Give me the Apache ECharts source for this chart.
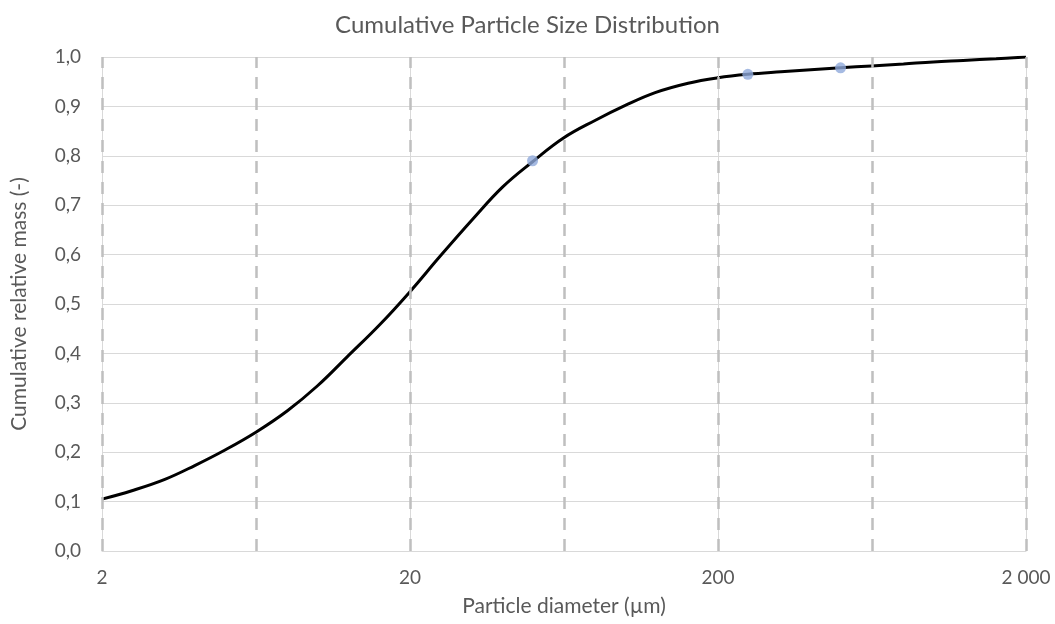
<!DOCTYPE html>
<html>
<head>
<meta charset="utf-8">
<title>Cumulative Particle Size Distribution</title>
<script src="https://cdn.jsdelivr.net/npm/echarts@6/dist/echarts.min.js"></script>
<style>
  html, body { margin: 0; padding: 0; background: #ffffff; }
  #chart { width: 1055px; height: 624px; }
</style>
</head>
<body>
<div id="chart"></div>
<script>
// Particle diameters (µm, R10 steps) and cumulative relative mass of the measured curve
const diameters = [2, 2.5, 3.2, 4, 5, 6.3, 8, 10, 12.5, 16, 20, 25, 32, 40, 50, 63, 80, 100, 125, 160, 200, 250, 320, 400, 500, 630, 800, 1000, 1250, 1600, 2000];
const cumulativeMass = [0.105, 0.122, 0.145, 0.173, 0.204, 0.240, 0.284, 0.334, 0.393, 0.459, 0.525, 0.596, 0.672, 0.737, 0.788, 0.836, 0.872, 0.902, 0.928, 0.947, 0.958, 0.965, 0.970, 0.974, 0.978, 0.982, 0.986, 0.990, 0.993, 0.9965, 1.000];

// Highlighted sample points
const markerDiameters = [50, 250, 500];
const markerMass = [0.79, 0.965, 0.978];

// Decade gridlines and half-decade dashed guides
const decadeTicks = [2, 20, 200, 2000];
const guideDiameters = [2, 6.32, 20, 63.2, 200, 632, 2000];

const FONT = 'Lato';
const TEXT = '#595959';

function fmtDiameter(v) {
  const n = Math.round(v);
  return String(n).replace(/\B(?=(\d{3})+(?!\d))/g, ' ');
}

const chart = echarts.init(document.getElementById('chart'), null, { renderer: 'canvas' });

chart.setOption({
  backgroundColor: '#ffffff',
  animation: false,
  textStyle: { fontFamily: FONT },
  title: {
    text: 'Cumulative Particle Size Distribution',
    left: 'center',
    top: 8,
    textStyle: { fontFamily: FONT, fontSize: 24, fontWeight: 'normal', color: TEXT }
  },
  grid: { left: 102, right: 29, top: 57, bottom: 73, outerBoundsMode: 'none', containLabel: false },
  xAxis: {
    type: 'log',
    logBase: 10,
    min: 2,
    max: 2000,
    name: 'Particle diameter (µm)',
    nameLocation: 'middle',
    nameGap: 45,
    nameTextStyle: { fontFamily: FONT, fontSize: 21, color: TEXT },
    axisLine: { show: true, lineStyle: { color: '#d9d9d9', width: 1 } },
    axisTick: { show: false },
    splitLine: { show: false },
    minorSplitLine: { show: false },
    axisLabel: {
      customValues: decadeTicks,
      formatter: fmtDiameter,
      margin: 17,
      fontFamily: FONT,
      fontSize: 19,
      color: TEXT
    }
  },
  yAxis: {
    type: 'value',
    min: 0,
    max: 1,
    interval: 0.1,
    name: 'Cumulative relative mass (-)',
    nameLocation: 'middle',
    nameGap: 72,
    nameTextStyle: { fontFamily: FONT, fontSize: 21, color: TEXT },
    axisLine: { show: false },
    axisTick: { show: false },
    splitLine: { show: true, lineStyle: { color: '#d9d9d9', width: 1 } },
    axisLabel: {
      formatter: v => v.toFixed(1).replace('.', ','),
      margin: 21,
      fontFamily: FONT,
      fontSize: 19,
      color: TEXT
    }
  },
  series: [
    {
      // solid decade gridlines
      type: 'line',
      data: [],
      silent: true,
      z: 1,
      markLine: {
        silent: true,
        symbol: ['none', 'none'],
        label: { show: false },
        animation: false,
        lineStyle: { type: 'solid', color: '#d9d9d9', width: 1 },
        data: decadeTicks.map(d => ({ xAxis: d }))
      }
    },
    {
      // dashed half-decade guides
      type: 'line',
      data: [],
      silent: true,
      z: 2,
      markLine: {
        silent: true,
        symbol: ['none', 'none'],
        label: { show: false },
        animation: false,
        lineStyle: { type: [12, 9], color: '#bfbfbf', width: 2.5 },
        data: guideDiameters.map(d => ({ xAxis: d }))
      }
    },
    {
      name: 'Cumulative mass',
      type: 'line',
      z: 3,
      smooth: 0.4,
      showSymbol: false,
      symbol: 'none',
      lineStyle: { color: '#000000', width: 3 },
      data: diameters.map((d, i) => [d, cumulativeMass[i]])
    },
    {
      name: 'Samples',
      type: 'scatter',
      z: 4,
      symbol: 'circle',
      symbolSize: 11,
      itemStyle: { color: '#8EA9DB' },
      data: markerDiameters.map((d, i) => [d, markerMass[i]])
    }
  ]
});
</script>
</body>
</html>
